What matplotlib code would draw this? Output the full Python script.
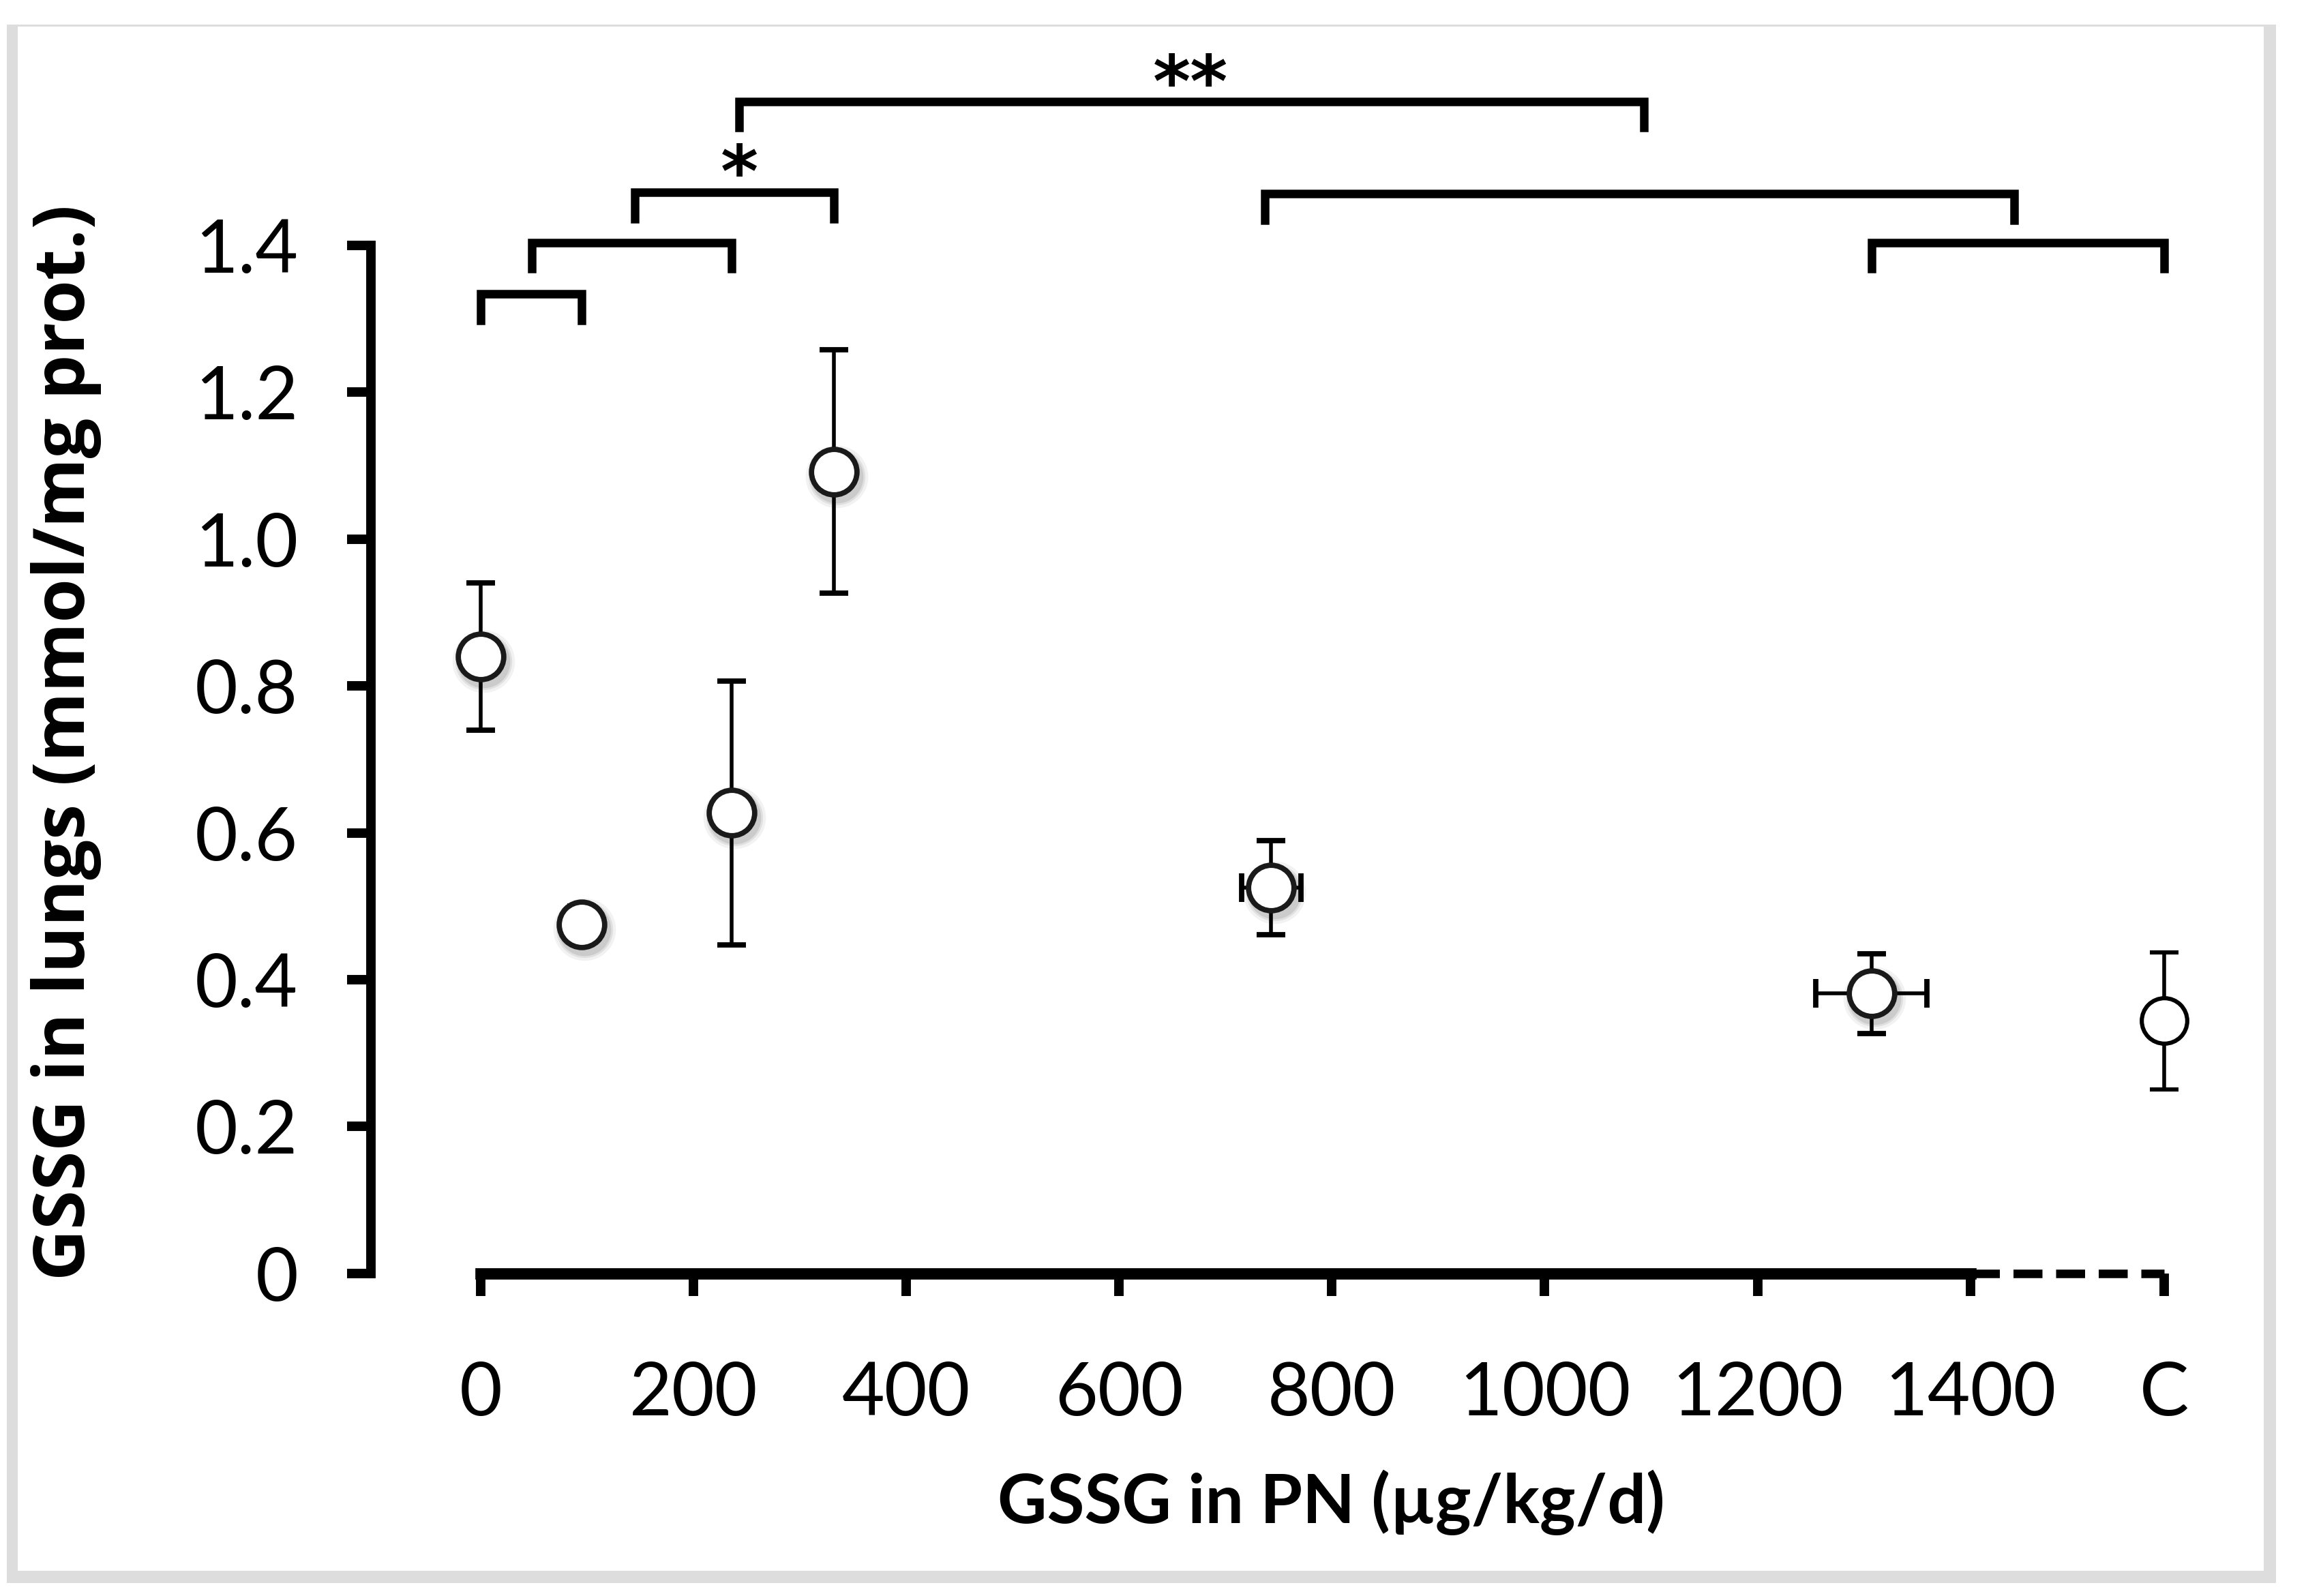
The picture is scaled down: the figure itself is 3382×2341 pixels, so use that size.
import matplotlib
matplotlib.use("Agg")
import matplotlib.pyplot as plt
from matplotlib import transforms
from matplotlib.patches import Rectangle

# GSSG dose in PN (ug/kg/d) and GSSG in lungs (mmol/mg prot.)
dose = [0, 95, 236, 332, 743, 1307]
dose_err = [0, 0, 0, 0, 28, 52]
gssg = [0.84, 0.475, 0.627, 1.092, 0.525, 0.381]
gssg_err = [0.10, 0.025, 0.180, 0.166, 0.064, 0.054]

# control group, drawn at the "C" position
ctrl_x = 1582
ctrl_gssg = 0.344
ctrl_err = 0.093

xticks = [0, 200, 400, 600, 800, 1000, 1200, 1400, ctrl_x]
xtick_labels = ['0', '200', '400', '600', '800', '1000', '1200', '1400', 'C']
yticks = [0, 0.2, 0.4, 0.6, 0.8, 1.0, 1.2, 1.4]
ytick_labels = ['0', '0.2', '0.4', '0.6', '0.8', '1.0', '1.2', '1.4']

# significance brackets: left x, right x, height
br_left = [0, 48, 145, 243, 737, 1307]
br_right = [95, 236, 332, 1093, 1441, ctrl_x]
br_top = [1.334, 1.404, 1.472, 1.596, 1.470, 1.404]
stars = [('*', 243, 1.494), ('**', 667, 1.616)]

plt.rcParams['font.family'] = ['Lato', 'DejaVu Sans']

fig = plt.figure(figsize=(16.91, 11.705), dpi=200)
ax = fig.add_axes([0.1609, 0.2021, 0.8089, 0.6442])
ax.set_xlim(-103, 1650)
ax.set_ylim(0, 1.4)

# grey frame around the figure (thin on top)
grey = '#dddddd'
for x0, y0, w, h in [(10, 36, 16, 2286), (3320, 36, 18, 2286),
                     (10, 2304, 3328, 18), (10, 36, 3328, 3)]:
    fig.add_artist(Rectangle((x0 / 3382, 1 - (y0 + h) / 2341), w / 3382, h / 2341,
                             transform=fig.transFigure, color=grey, lw=0))

# spines
for s in ['top', 'right']:
    ax.spines[s].set_visible(False)
ax.spines['left'].set_linewidth(5)
ax.spines['left'].set_bounds(0, 1.4)
ax.spines['bottom'].set_linewidth(6)
ax.spines['bottom'].set_bounds(0, 1400)
ax.plot([1400, ctrl_x], [0, 0], color='k', lw=4.5, ls=(0, (3.4, 1.6)),
        clip_on=False, solid_capstyle='butt')

ax.set_yticks(yticks)
ax.set_yticklabels(ytick_labels, fontsize=39)
ax.set_xticks(xticks)
ax.set_xticklabels(xtick_labels, fontsize=39)
ax.tick_params(axis='y', direction='out', length=12.5, width=5, pad=26)
ax.tick_params(axis='x', direction='out', length=12, width=5, pad=34)

# soft shadow under the PN markers
shadow = transforms.offset_copy(ax.transData, fig=fig, x=1.5, y=-2.5, units='points')
for ms, a in [(33, 0.05), (30, 0.07), (28, 0.09)]:
    ax.plot(dose, gssg, 'o', ms=ms, color='k', alpha=a, mec='none',
            transform=shadow, zorder=2, clip_on=False)

ax.errorbar(dose, gssg, yerr=gssg_err, xerr=dose_err, fmt='o', ms=24,
            mfc='white', mec='#1a1a1a', mew=2.8, ecolor='k', elinewidth=2,
            capsize=7.5, capthick=3, zorder=3, clip_on=False)
ax.errorbar([ctrl_x], [ctrl_gssg], yerr=[ctrl_err], fmt='o', ms=24,
            mfc='white', mec='k', mew=2.2, ecolor='k', elinewidth=2,
            capsize=7.5, capthick=3, zorder=3, clip_on=False)

# brackets
for x1, x2, yt in zip(br_left, br_right, br_top):
    ax.plot([x1, x1, x2, x2], [yt - 0.036, yt, yt, yt - 0.036], color='k',
            lw=4.5, clip_on=False, solid_joinstyle='miter')
for txt, xs, ys in stars:
    ax.text(xs, ys, txt, ha='center', va='center', fontsize=38,
            fontweight='bold', clip_on=False, family=['DejaVu Sans'])

fig.text(0.5772, 0.0585, 'GSSG in PN (\u00b5g/kg/d)', ha='center', va='center',
         fontsize=36, fontweight='bold')
fig.text(0.0287, 0.5348, 'GSSG in lungs (mmol/mg prot.)', ha='center', va='center',
         rotation=90, fontsize=37.5, fontweight='bold', family=['Open Sans', 'DejaVu Sans'])

fig.savefig('out.png', dpi=200, facecolor='white')
